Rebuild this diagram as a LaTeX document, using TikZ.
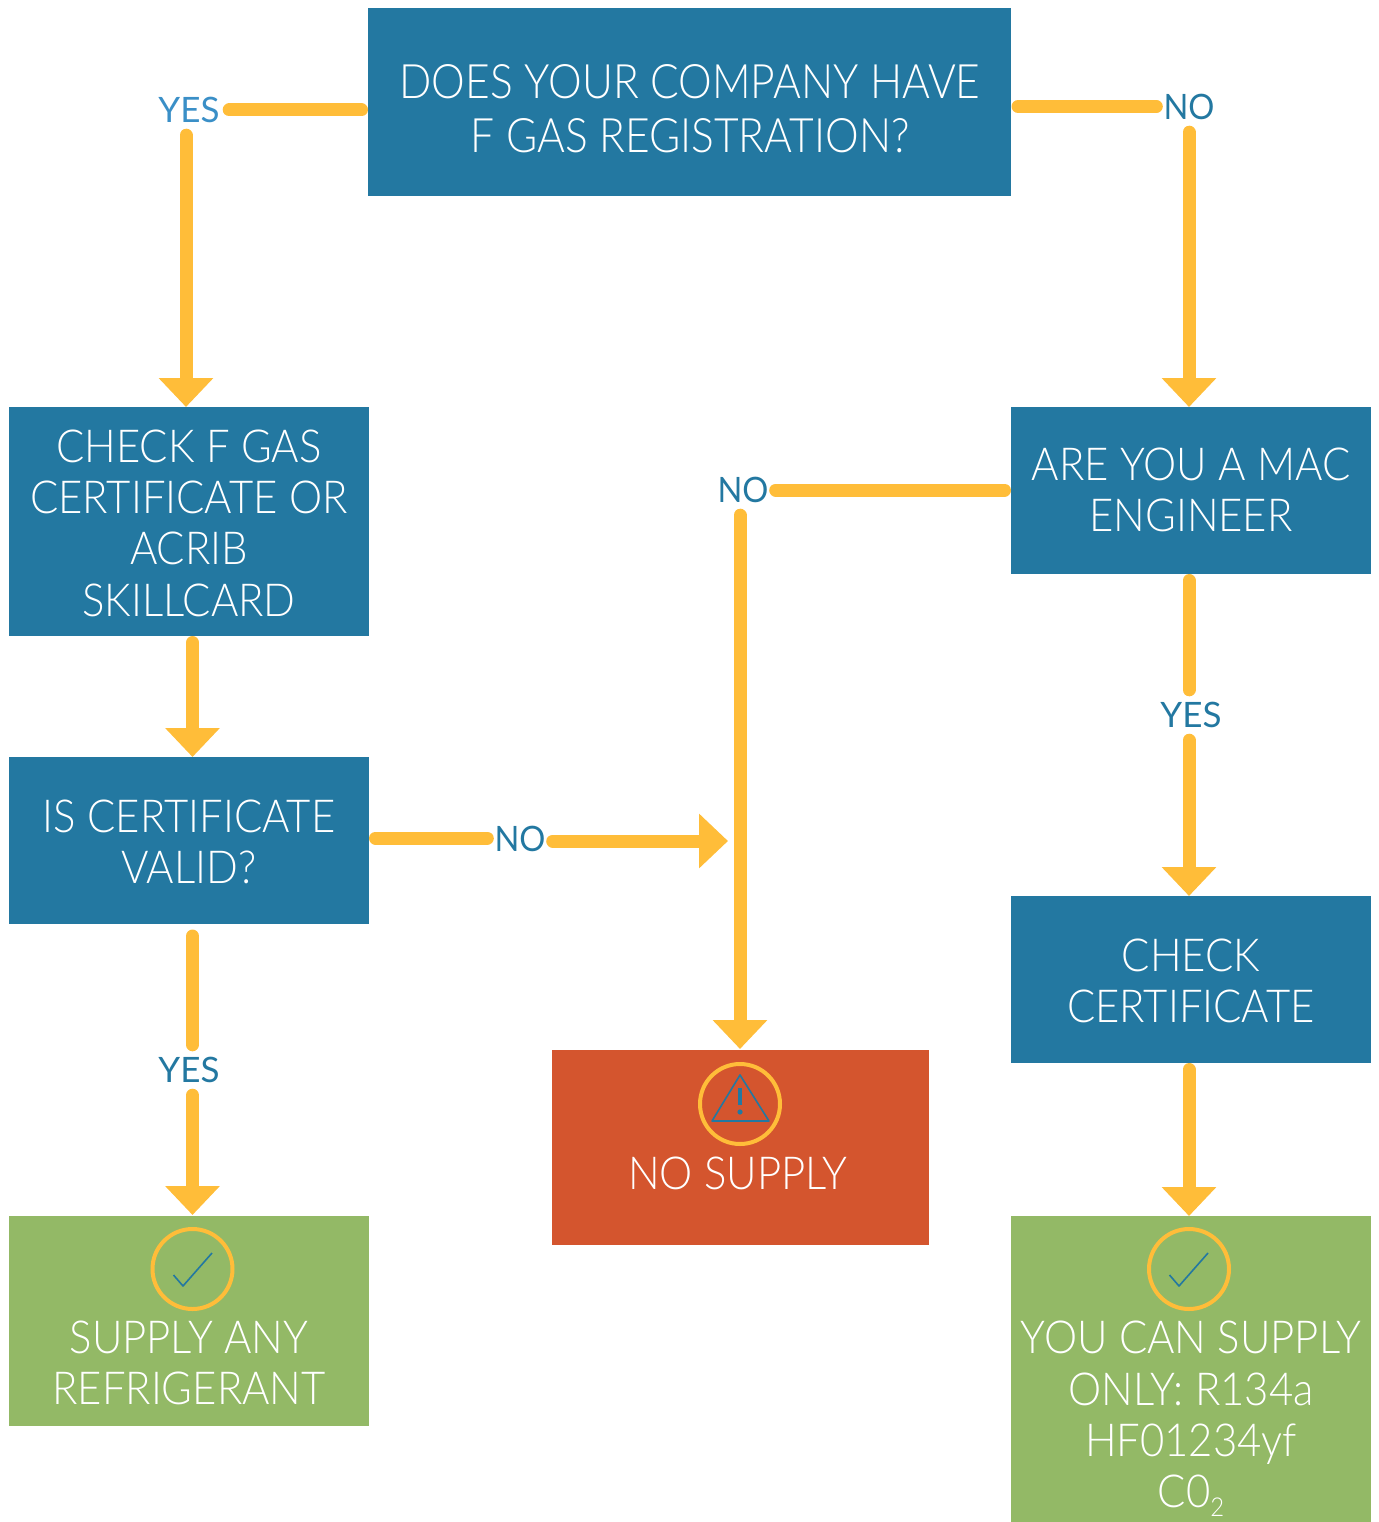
\documentclass[tikz,border=0pt]{standalone}
\usepackage{fontspec}
\setmainfont{Lato Light}[FakeStretch=0.92]
\newfontfamily\headfont{Lato Light}[FakeStretch=0.895]
\newfontfamily\labelfont{Lato}[FakeStretch=0.93]
\newfontfamily\yesfont{Lato}
\usetikzlibrary{arrows.meta,calc}
\definecolor{boxblue}{HTML}{2378A1}
\definecolor{lightblue}{HTML}{3A8FC7}
\definecolor{okgreen}{HTML}{93B966}
\definecolor{stopred}{HTML}{D4552E}
\definecolor{amber}{HTML}{FFBD39}
\tikzset{
 x=1pt,y=-1pt,
 box/.style={draw=none,minimum width=#1,inner sep=0pt,text=white,align=center,outer sep=0pt},
 boxtext/.style={text=white,align=center,inner sep=0pt,font=\fontsize{45.5}{51.3}\selectfont},
 lab/.style={text=boxblue,inner sep=0pt,minimum width=65pt,minimum height=50pt,font=\labelfont\fontsize{35}{40}\selectfont},
 labyes/.style={lab,minimum width=80pt,font=\yesfont\fontsize{35}{40}\selectfont},
 bar/.style={draw=amber,line width=13pt,line cap=round},
 arrow/.style={bar,-{Triangle[length=29pt,width=53pt,sharp]}},
 ring/.style={draw=amber,line width=4pt,circle,minimum size=80pt,inner sep=0pt},
 glyph/.style={draw=boxblue,line width=1.6pt,line join=round},
}
\begin{document}
\begin{tikzpicture}
\useasboundingbox (0,0) rectangle (1378,1522);
% boxes
\node[box=643pt,minimum height=188pt,anchor=north west,fill=boxblue] (q1) at (368,8) {};
\node[box=360pt,minimum height=229pt,anchor=north west,fill=boxblue] (cg) at (9,407) {};
\node[box=360pt,minimum height=167pt,anchor=north west,fill=boxblue] (va) at (9,757) {};
\node[box=360pt,minimum height=210pt,anchor=north west,fill=okgreen] (sa) at (9,1216) {};
\node[box=360pt,minimum height=167pt,anchor=north west,fill=boxblue] (mac) at (1011,407) {};
\node[box=360pt,minimum height=167pt,anchor=north west,fill=boxblue] (cc) at (1011,896) {};
\node[box=360pt,minimum height=306pt,anchor=north west,fill=okgreen] (yc) at (1011,1216) {};
\node[box=377pt,minimum height=195pt,anchor=north west,fill=stopred] (ns) at (552,1050) {};
% texts
\node[boxtext,font=\headfont\fontsize{47.5}{54}\selectfont] (t1) at (690,109) {DOES YOUR COMPANY HAVE\\F GAS REGISTRATION?};
\node[boxtext] (t2) at (189,523) {CHECK F GAS\\CERTIFICATE OR\\ACRIB\\SKILLCARD};
\node[boxtext] (t3) at (189,842) {IS CERTIFICATE\\VALID?};
\node[boxtext] (t4) at (189,1363) {SUPPLY ANY\\REFRIGERANT};
\node[boxtext] (t5) at (1191,490) {ARE YOU A MAC\\ENGINEER};
\node[boxtext] (t6) at (1191,981) {CHECK\\CERTIFICATE};
\node[boxtext] (t7) at (1191,1419) {YOU CAN SUPPLY\\ONLY: R134a\\HF01234yf\\C0\raisebox{-0.2em}{\fontsize{26}{26}\selectfont 2}};
\node[boxtext] (t8) at (738,1173) {NO SUPPLY};
% labels
\node[labyes,text=lightblue] (l1) at (189,110) {YES};
\node[lab] (l2) at (1189,107) {NO};
\node[lab] (l3) at (743,490) {NO};
\node[lab] (l4) at (520,839) {NO};
\node[labyes] (l5) at (1191,715) {YES};
\node[labyes] (l6) at (189,1070) {YES};
% free ends
\coordinate (e1) at (186,407);
\coordinate (e2) at (1189,407);
\coordinate (e3) at (192.5,757);
\coordinate (e4) at (740,1049);
\coordinate (e5) at (728,841);
\coordinate (e6) at (1189,896);
\coordinate (e7) at (1189,1216);
\coordinate (e8) at (192.5,1215);
% connectors
\draw[bar] ([xshift=-6.5pt]q1.west |- 0,110) coordinate (s1) -- (l1.east |- s1);
\draw[arrow] (l1.south -| e1) -- (e1);
\draw[bar] (1018,106.5) coordinate (s2) -- (s2 -| l2.west);
\draw[arrow] (l2.south -| e2) -- (e2);
\draw[arrow] (cg.south -| e3) ++(0,6.5) coordinate (s3) -- (e3);
\draw[bar] (va.east |- 0,838) ++(6.5,0) coordinate (s4) -- (s4 -| l4.west);
\draw[arrow] (l4.east |- e5) -- (e5);
\draw[bar] (mac.west |- 0,490) ++(-6.5,0) coordinate (s5) -- (s5 -| l3.east);
\draw[arrow] (l3.south -| e4) -- (e4);
\draw[bar] (mac.south -| e2) ++(0,6.5) coordinate (s6) -- (s6 |- l5.north);
\draw[arrow] (l5.south -| e6) -- (e6);
\draw[arrow] (cc.south -| e7) ++(0,6.5) coordinate (s7) -- (e7);
\draw[bar] (va.south -| e3) ++(0,12) coordinate (s8) -- (s8 |- l6.north);
\draw[arrow] (l6.south -| e8) -- (e8);
% icons
\node[ring] (r1) at (740,1104) {};
\draw[glyph] (740,1075) -- (769,1121) -- (712,1121) -- cycle;
\draw[boxblue,line width=4.5pt] (740,1088) -- (740,1105);
\fill[boxblue] (740,1112) circle (2.6pt);
\node[ring] (r2) at (192.5,1269) {};
\draw[glyph] (173.5,1275) -- (183,1286) -- (212,1253);
\node[ring] (r3) at (1189,1269) {};
\draw[glyph] (1169.5,1275) -- (1179,1286) -- (1208,1253);
\end{tikzpicture}
\end{document}
